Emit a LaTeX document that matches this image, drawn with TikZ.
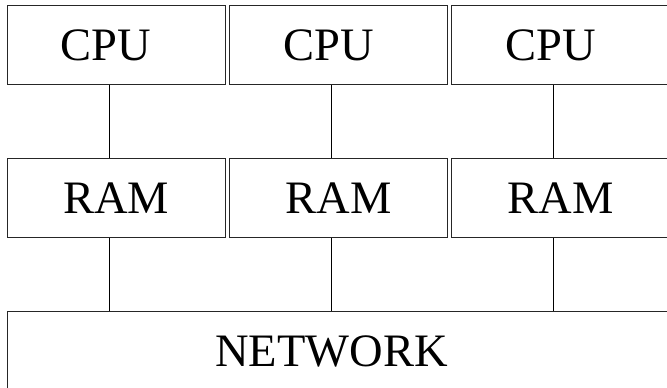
\documentclass[tikz,border=0pt]{standalone}
\usepackage{fontspec}
\setmainfont{Liberation Serif}
\begin{document}
\begin{tikzpicture}[x=1pt,y=-1pt,
  box/.style={draw=black!85, line width=1.3pt, rectangle, inner sep=0pt,
    minimum width=218pt, minimum height=79pt, anchor=north west,
    font=\fontsize{46.5}{50}\selectfont},
  wide/.style={box, minimum width=662.5pt},
  link/.style={draw=black, line width=0.9pt}]
\clip (0,0) rectangle (667,388);
\fill[white] (0,0) rectangle (667,388);
% CPU row
\node[box] (c1) at (6.5,5) {CPU\hspace*{20pt}};
\node[box] (c2) at (229,5) {CPU\hspace*{20pt}};
\node[box] (c3) at (451,5) {CPU\hspace*{20pt}};
% RAM row
\node[box] (r1) at (6.5,158) {RAM};
\node[box] (r2) at (229,158) {RAM};
\node[box] (r3) at (451,158) {RAM};
% network
\node[wide] (net) at (6.5,311) {NETWORK\hspace*{14pt}};
% connectors
\foreach \i in {1,2,3}{
  \draw[link] ([xshift=-7pt]c\i.south) -- ([xshift=-7pt]r\i.north);
  \draw[link] ([xshift=-7pt]r\i.south) -- ([xshift=-7pt]r\i.south |- net.north);
}
\end{tikzpicture}
\end{document}
